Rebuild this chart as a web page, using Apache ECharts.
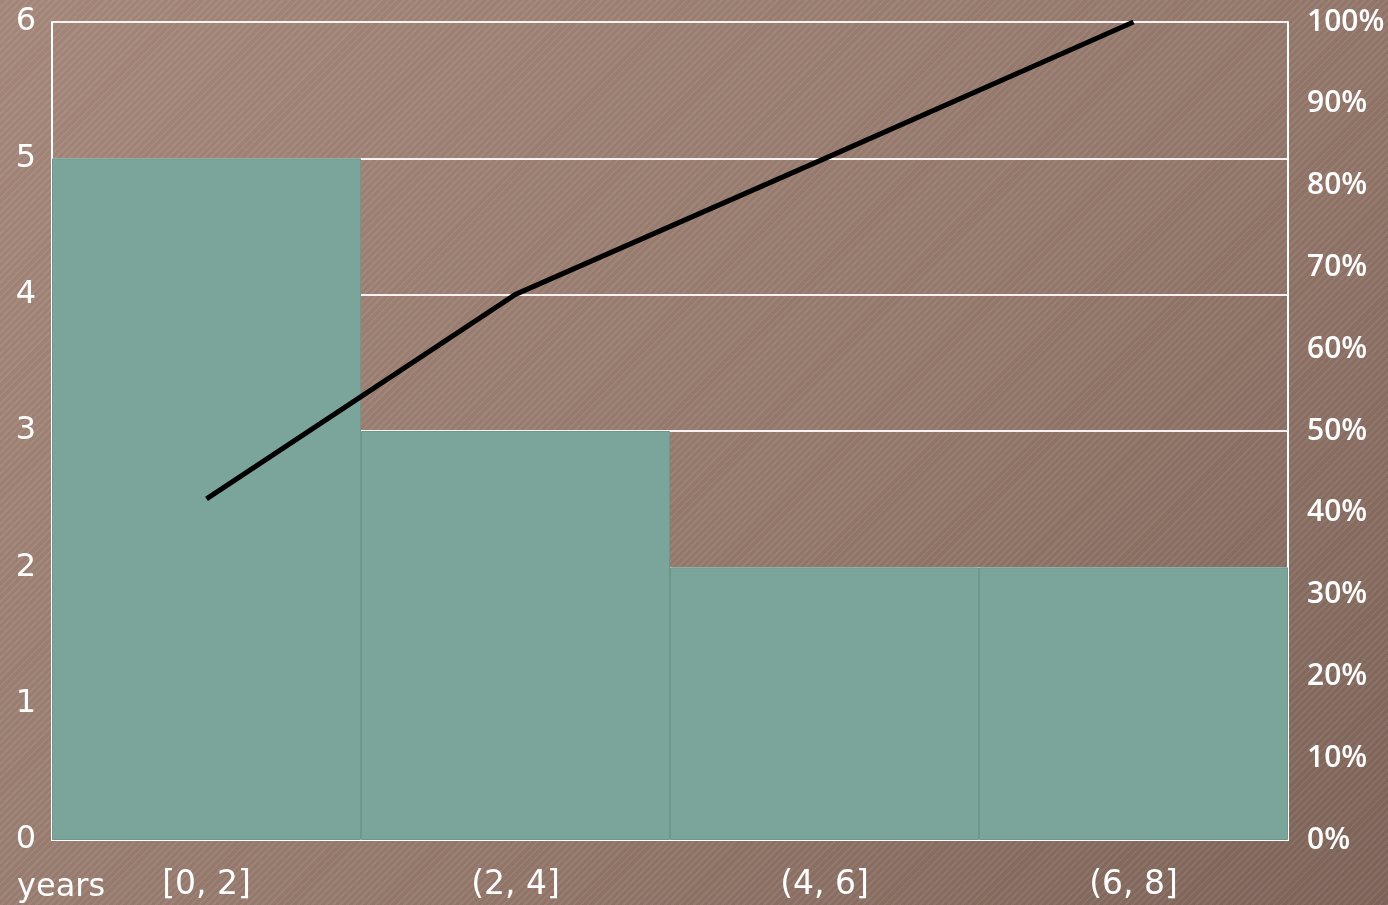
<!DOCTYPE html>
<html>
<head>
<meta charset="utf-8">
<title>years histogram</title>
<script src="https://cdn.jsdelivr.net/npm/echarts@6/dist/echarts.min.js"></script>
<style>
    html, body {
        margin: 0;
        padding: 0;
        width: 1388px;
        height: 905px;
        overflow: hidden;
    }
    body {
        background:
            repeating-linear-gradient(-45deg, rgba(255,255,255,0.07) 0px, rgba(255,255,255,0.07) 2px, rgba(0,0,0,0) 2px, rgba(0,0,0,0) 5px),
            linear-gradient(135deg, #a38679 0%, #94776b 55%, #7c6257 100%);
    }
    #chart {
        width: 1388px;
        height: 905px;
    }
</style>
</head>
<body>
<div id="chart"></div>
<script>
var categories = ["[0, 2]", "(2, 4]", "(4, 6]", "(6, 8]"];
var counts = [5, 3, 2, 2];
var cumulativePct = [41.7, 66.7, 83.3, 100];
var countTicks = [0, 1, 2, 3, 4, 5, 6];
var pctTicks = [0, 10, 20, 30, 40, 50, 60, 70, 80, 90, 100];

var wideFont = "'DejaVu Sans', Verdana, sans-serif";
var narrowFont = "'Open Sans', Lato, sans-serif";

var option = {
    backgroundColor: "transparent",
    animation: false,
    grid: {
        left: 52,
        right: 100,
        top: 22,
        bottom: 65
    },
    xAxis: {
        type: "category",
        data: categories,
        axisLine: { lineStyle: { color: "#ffffff", width: 2 } },
        axisTick: { show: false },
        axisLabel: {
            color: "#ffffff",
            fontFamily: wideFont,
            fontSize: 33,
            margin: 29
        }
    },
    yAxis: [
        {
            type: "value",
            min: countTicks[0],
            max: countTicks[countTicks.length - 1],
            interval: 1,
            axisLine: { show: true, lineStyle: { color: "#ffffff", width: 2 } },
            axisTick: { show: false },
            axisLabel: {
                color: "#ffffff",
                fontFamily: wideFont,
                fontSize: 32,
                margin: 16,
                padding: [8, 0, 0, 0]
            },
            splitLine: { lineStyle: { color: "#ffffff", width: 2, opacity: 0.9 } }
        },
        {
            type: "value",
            min: pctTicks[0],
            max: pctTicks[pctTicks.length - 1],
            interval: 10,
            position: "right",
            axisLine: { show: true, lineStyle: { color: "#ffffff", width: 2 } },
            axisTick: { show: false },
            axisLabel: {
                color: "#ffffff",
                fontFamily: narrowFont,
                fontWeight: 600,
                fontSize: 30,
                margin: 19,
                padding: [3, 0, 0, 0],
                formatter: "{value}%"
            },
            splitLine: { show: false }
        }
    ],
    graphic: [
        {
            type: "text",
            left: 17,
            top: 872,
            style: {
                text: "years",
                fill: "#ffffff",
                font: "32px " + wideFont
            }
        }
    ],
    series: [
        {
            type: "bar",
            data: counts,
            barCategoryGap: 0,
            itemStyle: {
                color: "#7ba59a",
                borderColor: "#6e978d",
                borderWidth: 1
            }
        },
        {
            type: "line",
            yAxisIndex: 1,
            data: cumulativePct,
            symbol: "none",
            lineStyle: { color: "#000000", width: 5 }
        }
    ]
};

echarts.init(document.getElementById("chart")).setOption(option);
</script>
</body>
</html>
